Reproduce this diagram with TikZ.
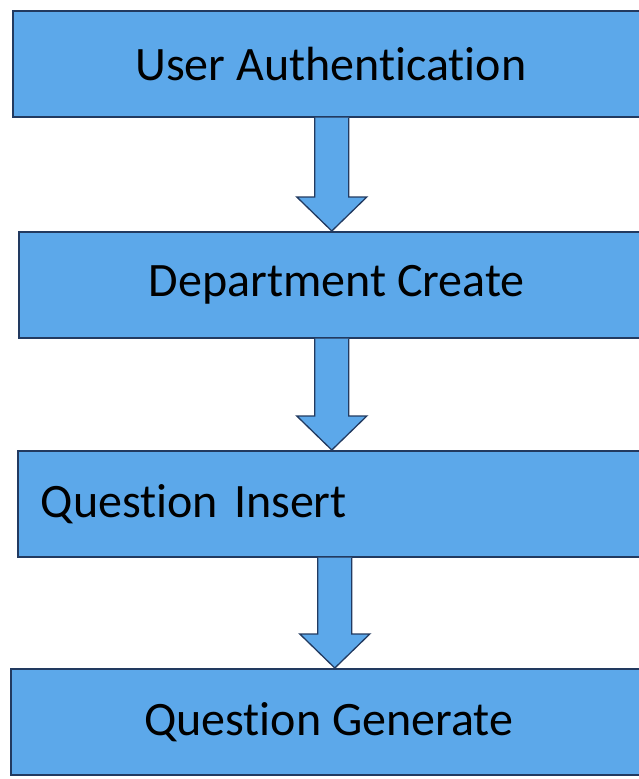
\documentclass[tikz,border=0pt]{standalone}
\usepackage{fontspec}
\setmainfont[Ligatures=NoCommon]{Carlito}
\usetikzlibrary{calc}

\definecolor{boxblue}{RGB}{92,168,234}
\definecolor{boxline}{RGB}{34,58,96}

\tikzset{
  stage/.style={draw=boxline, fill=boxblue, line width=1.6pt,
    minimum height=106pt, minimum width=636pt, inner sep=0pt,
    anchor=north west, font=\fontsize{48}{54}\selectfont},
  flowarrow/.style={draw=boxline, fill=boxblue, line width=1.3pt, line join=miter}
}

\begin{document}
\begin{tikzpicture}[x=1pt,y=-1pt]
  \useasboundingbox (0,0) rectangle (639,779);
  \clip (0,0) rectangle (639,779);

  % the four stages, running off the right edge
  \node[stage] (auth) at (12,10) {User Authentication};
  \node[stage] (dept) at (18,231) {Department Create};
  \node[stage, text width=590pt, inner xsep=23pt, align=left] (insert) at (17,450) {Question Insert};
  \node[stage] (gen) at (10,668) {Question Generate};

  % block arrows between stages (\d nudges the arrow sideways)
  \foreach \a/\b/\d in {auth/dept/1, dept/insert/-5, insert/gen/-1}
    \draw[flowarrow] let \p1=(\a.south), \p2=(\b.north) in
      (\x1+\d pt-17pt,\y1) -- (\x1+\d pt-17pt,\y2+34pt) -- (\x1+\d pt-35pt,\y2+34pt)
      -- (\x1+\d pt,\y2) -- (\x1+\d pt+35pt,\y2+34pt) -- (\x1+\d pt+17pt,\y2+34pt)
      -- (\x1+\d pt+17pt,\y1);
\end{tikzpicture}
\end{document}
